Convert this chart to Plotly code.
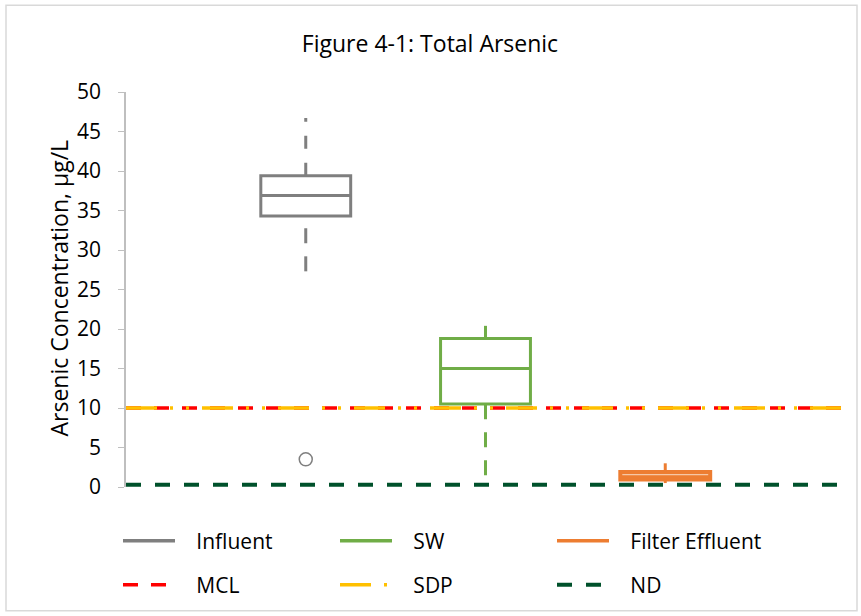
import plotly.graph_objects as go

# ---- data ----
categories = ["Influent", "SW", "Filter Effluent"]
box_min = [27.3, 1.5, 0.5]
box_q1 = [34.3, 10.5, 0.95]
box_median = [36.9, 15.0, 1.25]
box_q3 = [39.4, 18.8, 1.9]
box_max = [46.7, 20.4, 3.0]
outlier_values = [3.5]          # Influent outlier
outlier_category = [0]          # index into categories
colors = ["#7F7F7F", "#70AD47", "#ED7D31"]
box_fills = ["rgba(255,255,255,0)", "rgba(255,255,255,0)", "#F6C7A5"]
box_line_widths = [3, 3, 4]

ref_names = ["MCL", "SDP", "ND"]
ref_values = [10, 10, 0.3]
ref_colors = ["#FF0000", "#FFC000", "#00512B"]
ref_dash = ["15px,13px", "31px,13px,3px,13px,3px,13px", "15px,14px"]
ref_width = [3.5, 3.5, 4]

y_ticks = [0, 5, 10, 15, 20, 25, 30, 35, 40, 45, 50]

FONT = "Open Sans"
PAD = "\u00a0\u00a0\u00a0"
x_pos = [i + 1 for i in range(len(categories))]
x_span = [0, len(categories) + 1]

fig = go.Figure()

# reference lines (drawn first)
for name, v, c, d, w in zip(ref_names, ref_values, ref_colors, ref_dash, ref_width):
    fig.add_trace(go.Scatter(
        x=x_span, y=[v, v], mode="lines", name=PAD + name,
        line=dict(color=c, dash=d, width=w), legend="legend2",
        hoverinfo="skip"))

# boxes (whiskers drawn separately as dashed lines)
for i, cat in enumerate(categories):
    fig.add_trace(go.Box(
        x=[x_pos[i]], q1=[box_q1[i]], median=[box_median[i]], q3=[box_q3[i]],
        lowerfence=[box_q1[i]], upperfence=[box_q3[i]],
        width=0.5, whiskerwidth=0, fillcolor=box_fills[i],
        line=dict(color=colors[i], width=box_line_widths[i]),
        showlegend=False, name=cat))
    fig.add_trace(go.Scatter(
        x=[x_pos[i], x_pos[i]], y=[box_q3[i], box_max[i]], mode="lines",
        line=dict(color=colors[i], width=3, dash="13px,14px"), showlegend=False))
    fig.add_trace(go.Scatter(
        x=[x_pos[i], x_pos[i]], y=[box_min[i], box_q1[i]], mode="lines",
        line=dict(color=colors[i], width=3, dash="15px,13px"), showlegend=False))
    # legend entry
    fig.add_trace(go.Scatter(
        x=[None], y=[None], mode="lines", name=PAD + cat,
        line=dict(color=colors[i], width=3.5), legend="legend"))

# outliers
fig.add_trace(go.Scatter(
    x=[x_pos[k] for k in outlier_category], y=outlier_values, mode="markers",
    marker=dict(symbol="circle-open", size=13, color="#7F7F7F",
                line=dict(width=1.5, color="#7F7F7F")),
    showlegend=False))

W, H = 861, 616
L, R, T, B = 126, 16, 92, 128
pw, ph = W - L - R, H - T - B

legend_common = dict(orientation="h", xanchor="left", yanchor="middle",
                     entrywidth=150, entrywidthmode="pixels", itemwidth=52,
                     font=dict(size=21, family=FONT, color="#000000"),
                     bgcolor="rgba(0,0,0,0)")

fig.update_layout(
    width=W, height=H,
    margin=dict(l=L, r=R, t=T, b=B),
    paper_bgcolor="white", plot_bgcolor="white",
    font=dict(family=FONT, size=21, color="#000000"),
    title=dict(text="Figure 4-1: Total Arsenic", x=(430 - L) / pw, xref="paper",
               xanchor="center", y=1 - 44 / H, yanchor="middle",
               font=dict(size=23, family=FONT, color="#000000")),
    xaxis=dict(range=x_span, showticklabels=False, showline=False,
               showgrid=False, zeroline=False, ticks=""),
    yaxis=dict(range=[0, 50], tickvals=y_ticks, showgrid=False, zeroline=False,
               showline=True, linecolor="#BFBFBF", linewidth=1.5,
               ticks="outside", ticklen=6, tickcolor="#BFBFBF", ticklabelstandoff=13,
               tickfont=dict(size=21, family=FONT)),
    annotations=[dict(text="Arsenic Concentration, µg/L", textangle=-90,
                      xref="paper", yref="paper", x=(59 - L) / pw,
                      y=(488 - 289) / ph, xanchor="center", yanchor="middle",
                      showarrow=False, font=dict(size=23, family=FONT, color="#000000"))],
    legend=dict(x=(118 - L) / pw, y=(488 - 541) / ph, **legend_common),
    legend2=dict(x=(118 - L) / pw, y=(488 - 585) / ph, **legend_common),
    shapes=[dict(type="rect", xref="paper", yref="paper",
                 x0=(6 - L) / pw, x1=(857 - L) / pw,
                 y0=(H - B - 612) / ph, y1=(H - B - 5) / ph,
                 line=dict(color="#D9D9D9", width=1.5), layer="below")],
)

fig.write_html("out.html", post_script="document.body.style.margin='0';",
               config={"displayModeBar": False})
